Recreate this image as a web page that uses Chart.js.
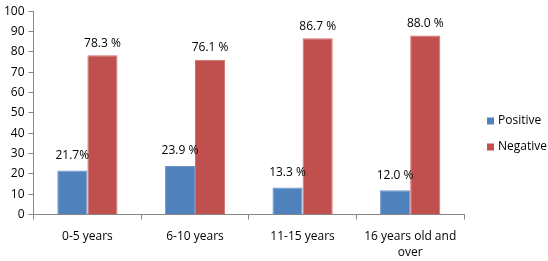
<!DOCTYPE html>
<html lang="en">
<head>
    <meta charset="UTF-8">
    <title>Positive / Negative by age group</title>
    <script src="https://cdn.jsdelivr.net/npm/chart.js"></script>
    <style>
        html, body { margin: 0; padding: 0; background: #fff; }
        #wrap { width: 548px; height: 261px; }
    </style>
</head>
<body>
    <div id="wrap">
        <canvas id="myChart" width="548" height="261"></canvas>
    </div>

    <script>
        // Age groups on the x axis
        const categories = ['0-5 years', '6-10 years', '11-15 years', ['16 years old and', 'over']];

        // Percentages
        const positive = [21.7, 23.9, 13.3, 12.0];
        const negative = [78.3, 76.1, 86.7, 88.0];

        // Labels written above the bars (as printed in the original)
        const positiveLabels = ['21.7%', '23.9 %', '13.3 %', '12.0 %'];
        const negativeLabels = ['78.3 %', '76.1 %', '86.7 %', '88.0 %'];

        const fontFamily = "'Open Sans', 'Liberation Sans', sans-serif";
        const axisColor = '#868686';

        // Draws the value text above each bar
        const barLabels = {
            id: 'barLabels',
            afterDatasetsDraw(chart) {
                const ctx = chart.ctx;
                ctx.save();
                ctx.fillStyle = '#000';
                ctx.font = '12px ' + fontFamily;
                ctx.textAlign = 'center';
                ctx.textBaseline = 'bottom';
                chart.data.datasets.forEach((ds, i) => {
                    const meta = chart.getDatasetMeta(i);
                    meta.data.forEach((bar, j) => {
                        const gap = i === 0 ? 9 : 6;
                        ctx.fillText(ds.valueLabels[j], bar.x, bar.y - gap);
                    });
                });
                ctx.restore();
            }
        };

        // Excel-like legend sitting in the right margin
        const sideLegend = {
            id: 'sideLegend',
            afterDraw(chart) {
                const ctx = chart.ctx;
                const x = chart.chartArea.right + 23;
                const rowGap = 26;
                const sets = chart.data.datasets;
                let y = chart.height / 2 + 3.5 - rowGap * (sets.length - 1) / 2;
                ctx.save();
                ctx.font = '12px ' + fontFamily;
                ctx.textBaseline = 'middle';
                ctx.textAlign = 'left';
                sets.forEach(ds => {
                    ctx.fillStyle = ds.backgroundColor;
                    ctx.fillRect(x, y - 3.5, 7, 7);
                    ctx.fillStyle = '#000';
                    ctx.fillText(ds.label, x + 11, y);
                    y += rowGap;
                });
                ctx.restore();
            }
        };

        const config = {
            type: 'bar',
            data: {
                labels: categories,
                datasets: [{
                    label: 'Positive',
                    data: positive,
                    valueLabels: positiveLabels,
                    backgroundColor: '#4F81BD',
                    borderColor: '#6f95c8',
                    borderWidth: 1
                }, {
                    label: 'Negative',
                    data: negative,
                    valueLabels: negativeLabels,
                    backgroundColor: '#C0504D',
                    borderColor: '#cf6f6c',
                    borderWidth: 1
                }]
            },
            options: {
                responsive: false,
                animation: false,
                layout: { padding: { top: 5, left: 0, right: 84, bottom: -9 } },
                datasets: {
                    bar: { categoryPercentage: 0.56, barPercentage: 1.0 }
                },
                plugins: {
                    tooltip: { enabled: false },
                    legend: { display: false }
                },
                scales: {
                    x: {
                        grid: {
                            display: true,
                            drawOnChartArea: false,
                            drawTicks: true,
                            tickLength: 5,
                            color: axisColor
                        },
                        border: { color: axisColor },
                        ticks: {
                            color: '#000',
                            maxRotation: 0,
                            autoSkip: false,
                            padding: 9,
                            font: { family: fontFamily, size: 12, lineHeight: 1.35 }
                        }
                    },
                    y: {
                        min: 0,
                        max: 100,
                        grid: {
                            display: true,
                            drawOnChartArea: false,
                            drawTicks: true,
                            tickLength: 5,
                            color: axisColor
                        },
                        border: { color: axisColor },
                        ticks: {
                            stepSize: 10,
                            color: '#000',
                            padding: 4,
                            font: { family: fontFamily, size: 12 }
                        }
                    }
                }
            },
            plugins: [barLabels, sideLegend]
        };

        const ctx = document.getElementById('myChart').getContext('2d');
        new Chart(ctx, config);
    </script>
</body>
</html>
